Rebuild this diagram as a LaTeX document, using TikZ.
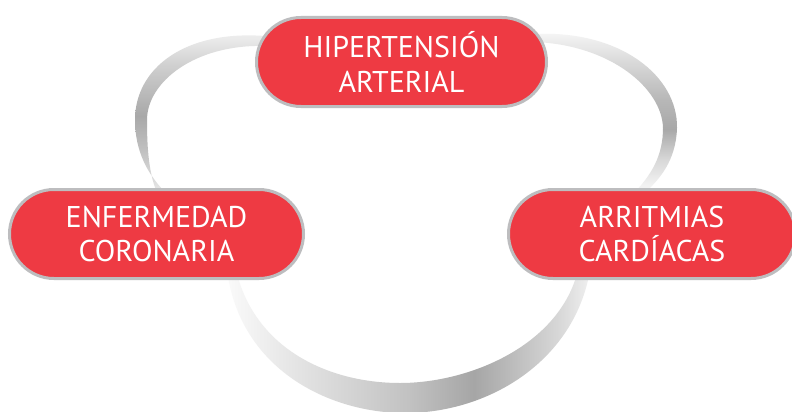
\documentclass[tikz,border=0pt]{standalone}
\usepackage{fontspec}
\setmainfont{PT Sans}
\usetikzlibrary{shapes.misc}
\definecolor{pillred}{HTML}{EE3A43}
\definecolor{pillborder}{HTML}{BDBDBF}
% upper-left crescent (vertical, 0bp = page bottom)
\pgfdeclareverticalshading{arcUL}{100bp}{%
  color(0bp)=(white!92!black); color(25bp)=(white!92!black);
  color(38bp)=(white!76!black); color(49bp)=(white!66!black);
  color(63bp)=(white!80!black); color(75bp)=(white!95!black);
  color(100bp)=(white!95!black)}
% upper-right crescent
\pgfdeclareverticalshading{arcUR}{100bp}{%
  color(0bp)=(white!95!black); color(28bp)=(white!95!black);
  color(36bp)=(white!84!black); color(45bp)=(white!66!black);
  color(54bp)=(white!72!black); color(66bp)=(white!86!black);
  color(74bp)=(white!96!black); color(100bp)=(white!96!black)}
% bottom crescent (horizontal)
\pgfdeclarehorizontalshading{arcB}{100bp}{%
  color(0bp)=(white!98!black); color(25bp)=(white!98!black);
  color(35bp)=(white!89!black); color(50bp)=(white!76!black);
  color(59bp)=(white!65!black); color(71bp)=(white!85!black);
  color(75bp)=(white!94!black); color(100bp)=(white!94!black)}
\tikzset{
  pill/.style={rounded rectangle, draw=pillborder, line width=3pt,
    fill=pillred, text=white, align=center, inner sep=0pt,
    minimum height=89pt,
    font=\fontsize{30}{34.4}\selectfont},
  crescent/.style={draw=none}
}
\begin{document}
\begin{tikzpicture}[x=1pt,y=-1pt]
\useasboundingbox (0,0) rectangle (792,412);
\fill[white] (0,0) rectangle (792,412);
% upper-left crescent
\shade[crescent, shading=arcUL]
  (265,36) .. controls (185,30) and (135,68) .. (135,120)
  .. controls (135,150) and (147,175) .. (168,195)
  -- (158,195) .. controls (149,175) and (147,150) .. (147,120)
  .. controls (147,82) and (195,44) .. (265,46) -- cycle;
% upper-right crescent
\shade[crescent, shading=arcUR]
  (535,34) .. controls (620,30) and (678,76) .. (677,128)
  .. controls (676,160) and (660,180) .. (642,195)
  -- (632,195) .. controls (652,175) and (663,155) .. (663,128)
  .. controls (662,88) and (610,45) .. (535,42) -- cycle;
% bottom crescent
\shade[crescent, shading=arcB]
  (227,270) .. controls (240,370) and (330,413) .. (405,413)
  .. controls (490,413) and (575,360) .. (590,270)
  -- (578,270) .. controls (560,345) and (470,383) .. (400,383)
  .. controls (330,383) and (255,350) .. (236,270) -- cycle;
% pills
\node[pill, minimum width=290pt] (hta) at (401.5,62) {HIPERTENSIÓN\\ARTERIAL};
\node[pill, minimum width=294pt] (ec) at (156.5,234) {ENFERMEDAD\\CORONARIA};
\node[pill, minimum width=287pt] (ac) at (652,234) {ARRITMIAS\\CARDÍACAS};
\end{tikzpicture}
\end{document}
